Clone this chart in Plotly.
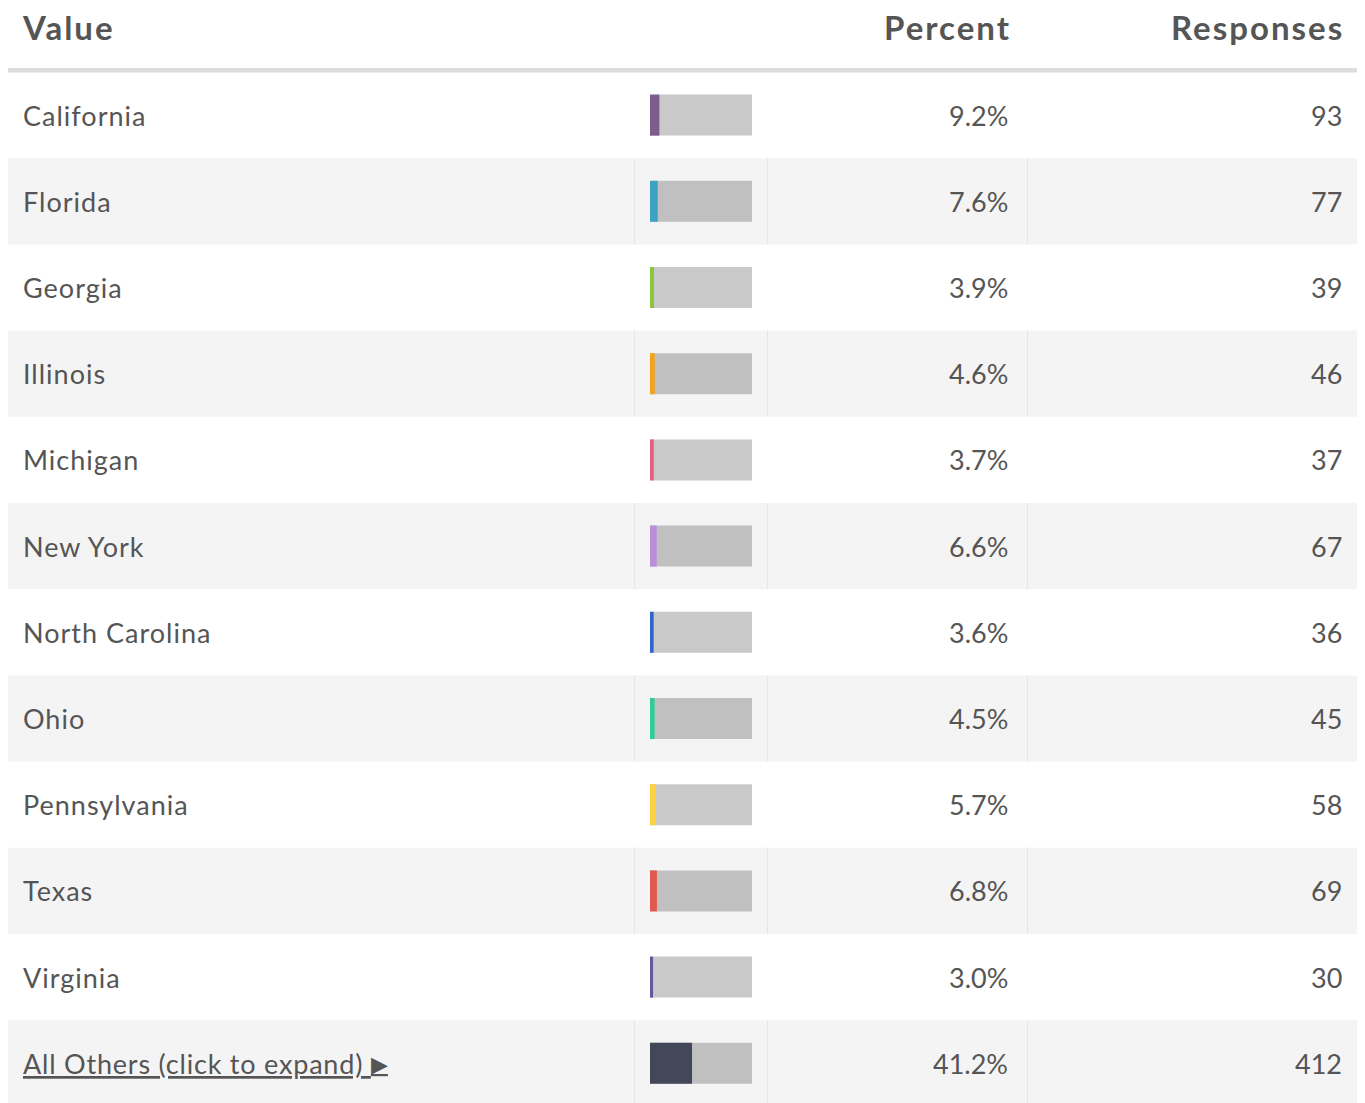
import plotly.graph_objects as go

# ---- data ----
states = ["California", "Florida", "Georgia", "Illinois", "Michigan", "New York",
          "North Carolina", "Ohio", "Pennsylvania", "Texas", "Virginia",
          "All Others (click to expand)"]
percents = [9.2, 7.6, 3.9, 4.6, 3.7, 6.6, 3.6, 4.5, 5.7, 6.8, 3.0, 41.2]
responses = [93, 77, 39, 46, 37, 67, 36, 45, 58, 69, 30, 412]
colors = ["#7c5d8e", "#3ca3c4", "#8cc63f", "#f5a31a", "#e95d7d", "#bb8ed9",
          "#3366cc", "#2ecc9b", "#fcd03f", "#e05a50", "#5e5a9d", "#434859"]
headers = ["Value", "Percent", "Responses"]

OFF = 8  # page body margin
W, H = 1365 - OFF, 1103 - OFF
ROW_TOP = 72.0
ROW_H = 86.2
n = len(states)
rows = list(range(n))


def px(p):  # page x -> paper
    return (p - OFF) / W


def yv(p):  # page y -> row units
    return (p - ROW_TOP) / ROW_H - 0.5


y_top = yv(OFF)
y_bot = yv(OFF + H)

TEXT = "#555555"
FONT = "Lato, 'Open Sans', sans-serif"

fig = go.Figure()

# background gray bars (100%)
fig.add_trace(go.Bar(
    x=[100] * n, y=rows, orientation="h", width=41 / ROW_H,
    marker=dict(color="rgba(0,0,0,0.21)", line=dict(width=0)),
    hoverinfo="skip", showlegend=False, xaxis="x", yaxis="y",
))
# coloured value bars
fig.add_trace(go.Bar(
    x=percents, y=rows, orientation="h", width=41 / ROW_H,
    marker=dict(color=colors, line=dict(width=0)),
    customdata=responses,
    hovertemplate="%{x}%<extra></extra>", showlegend=False,
    xaxis="x", yaxis="y",
))

shapes = []
for i in rows:
    if i % 2 == 1:
        shapes.append(dict(type="rect", xref="paper", yref="y",
                           x0=px(7), x1=px(1361), y0=i - 0.5, y1=i + 0.5,
                           fillcolor="#f4f4f4", line=dict(width=0), layer="below"))
        for xs in [634.5, 767.5, 1027.5]:
            shapes.append(dict(type="line", xref="paper", yref="y",
                               x0=px(xs), x1=px(xs), y0=i - 0.5, y1=i + 0.5,
                               line=dict(color="#e6e6e6", width=1), layer="below"))
shapes.append(dict(type="line", xref="paper", yref="y",
                   x0=px(7), x1=px(1361), y0=yv(70.3), y1=yv(70.3),
                   line=dict(color="#dddddd", width=4.5), layer="below"))

annotations = []
HS = '<span style="letter-spacing:2px"><b>{}</b></span>'
LS = '<span style="letter-spacing:1px">{}</span>'
hy = yv(27)
for h, xx, anc in zip(headers, [20, 1013, 1346], ["left", "right", "right"]):
    annotations.append(dict(x=px(xx), y=hy, xref="paper", yref="y", text=HS.format(h),
                            showarrow=False, xanchor=anc, yanchor="middle",
                            font=dict(family=FONT, size=33, color=TEXT)))

for i, (s, p, r) in enumerate(zip(states, percents, responses)):
    if i == n - 1:
        label = ('<u><span style="letter-spacing:0.8px">' + s + ' </span>'
                 '<span style="font-size:22px;baseline-shift:2px">\u25B6</span></u>')
    else:
        label = LS.format(s)
    annotations.append(dict(x=px(21), y=i, xref="paper", yref="y", text=label,
                            showarrow=False, xanchor="left", yanchor="middle",
                            font=dict(family=FONT, size=27, color=TEXT)))
    annotations.append(dict(x=px(1010), y=i, xref="paper", yref="y", text=f"{p:.1f}%",
                            showarrow=False, xanchor="right", yanchor="middle",
                            font=dict(family=FONT, size=27, color=TEXT)))
    annotations.append(dict(x=px(1344), y=i, xref="paper", yref="y", text=str(r),
                            showarrow=False, xanchor="right", yanchor="middle",
                            font=dict(family=FONT, size=27, color=TEXT)))

fig.update_layout(
    width=W, height=H,
    margin=dict(l=0, r=0, t=0, b=0),
    paper_bgcolor="white", plot_bgcolor="rgba(0,0,0,0)",
    barmode="overlay",
    xaxis=dict(domain=[px(650), px(752)], range=[0, 100], visible=False, fixedrange=True),
    yaxis=dict(domain=[0, 1], range=[y_bot, y_top], visible=False, fixedrange=True),
    shapes=shapes, annotations=annotations,
    showlegend=False,
)

fig.write_html("out.html")
